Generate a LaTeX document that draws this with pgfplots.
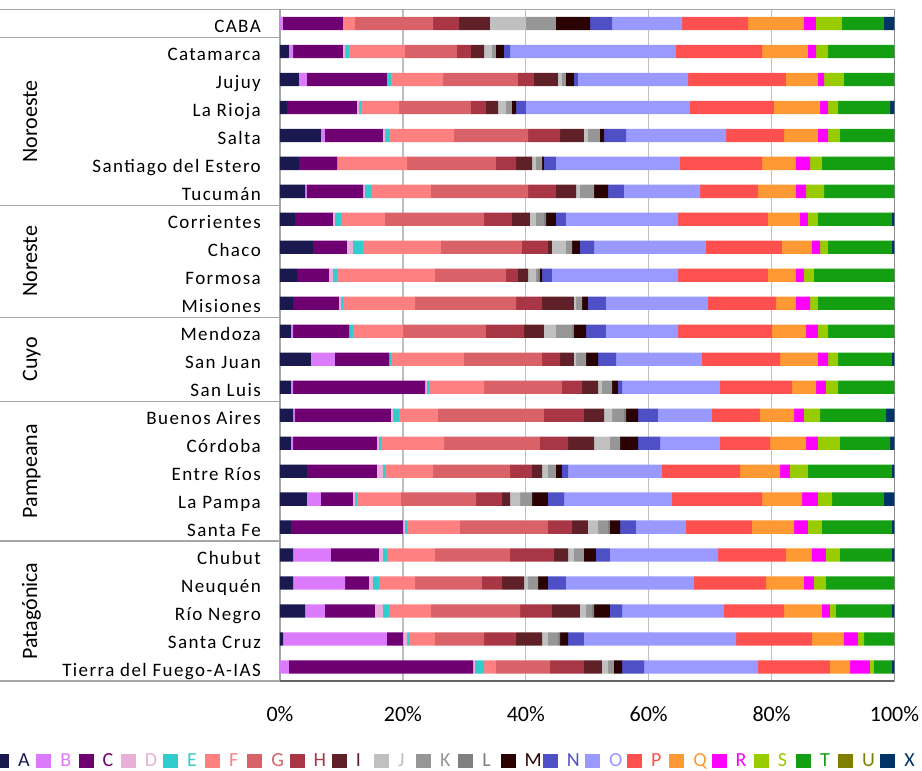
\documentclass[border=0pt]{standalone}
\usepackage{pgfplots}
\pgfplotsset{compat=1.18}
\usepackage{pgfplotstable}
\usepackage{fontspec}
\setmainfont{Carlito}
\newfontfamily\lblfont[LetterSpace=7.5]{Carlito}
\definecolor{cA}{HTML}{191950}
\definecolor{cB}{HTML}{DB7BFC}
\definecolor{cC}{HTML}{6F0071}
\definecolor{cD}{HTML}{E8B0D6}
\definecolor{cE}{HTML}{33CCCC}
\definecolor{cF}{HTML}{FF8080}
\definecolor{cG}{HTML}{D96168}
\definecolor{cH}{HTML}{A83644}
\definecolor{cI}{HTML}{602028}
\definecolor{cJ}{HTML}{C0C0C0}
\definecolor{cK}{HTML}{969696}
\definecolor{cL}{HTML}{808080}
\definecolor{cM}{HTML}{2A0202}
\definecolor{cN}{HTML}{4F50C6}
\definecolor{cO}{HTML}{9999FF}
\definecolor{cP}{HTML}{FF5050}
\definecolor{cQ}{HTML}{FF9933}
\definecolor{cR}{HTML}{FF00FF}
\definecolor{cS}{HTML}{99CC00}
\definecolor{cT}{HTML}{149E11}
\definecolor{cU}{HTML}{808000}
\definecolor{cX}{HTML}{003366}
\pgfplotstableread{
y A B C D E F G H I J K L M N O P Q R S T U X
23 0 0.43 9.82 0 0 1.95 12.70 4.23 5.04 5.86 4.88 0 5.54 3.58 11.39 10.74 9.11 1.95 4.23 6.83 0 1.71
22 1.46 0.66 8.13 0.33 0.65 9.11 8.46 2.28 2.12 1.30 0.65 0 1.30 0.98 27.01 14.00 7.48 1.31 1.95 10.82 0 0
21 3.09 1.30 13.02 0 0.65 8.47 12.20 2.60 3.91 0.65 0.65 0 1.30 0.65 17.91 15.94 5.21 0.98 3.25 8.22 0 0
20 1.14 0 11.39 0.33 0.32 6.19 11.71 2.44 1.96 1.30 0.97 0 0.66 1.62 26.69 13.67 7.49 1.30 1.63 8.46 0 0.73
19 6.67 0.65 9.44 0.33 0.65 10.58 12.04 5.21 3.90 0.65 1.95 0 0.66 3.58 16.27 9.44 5.53 1.63 1.95 8.87 0 0
18 3.09 0 6.19 0 0 11.39 14.48 3.26 2.60 0.65 0.98 0 0.32 1.95 20.18 13.35 5.53 2.28 1.95 11.80 0 0
17 4.07 0.32 9.12 0.32 0.98 9.76 15.79 4.55 3.26 0.65 2.28 0 2.28 2.60 12.37 9.44 6.18 1.63 2.93 11.47 0 0
16 2.44 0 6.18 0.33 0.98 7.16 16.11 4.55 2.93 0.98 1.30 0.33 1.62 1.63 18.23 14.64 5.21 1.30 1.63 12.04 0 0.41
15 5.37 0 5.53 0.98 1.63 12.69 13.18 4.23 0.65 2.28 0.98 0 1.30 2.28 18.22 12.37 4.88 1.31 1.30 10.41 0 0.41
14 2.77 0 5.20 0.65 0.66 15.94 11.56 1.95 1.63 1.30 0.33 0.32 0.33 1.62 20.51 14.64 4.56 1.30 1.63 13.10 0 0
13 2.12 0 7.48 0.33 0.32 11.72 16.44 4.23 5.20 0.33 0.98 0 0.97 2.93 16.60 11.07 3.25 2.28 1.30 12.45 0 0
12 1.79 0.33 9.11 0 0.65 8.14 13.50 6.19 3.25 1.95 2.61 0.32 1.96 3.25 11.72 15.30 5.53 1.95 1.63 10.82 0 0
11 5.04 3.91 8.79 0 0.32 11.88 12.70 2.93 2.27 0.33 1.63 0 1.95 2.93 13.99 12.70 6.18 1.63 1.63 8.78 0 0.41
10 1.79 0.33 21.48 0.32 0.33 8.95 12.69 3.26 2.60 0.65 1.63 0 0.97 0.66 15.94 11.72 3.91 1.62 1.96 9.19 0 0
9 2.12 0.32 15.62 0.33 0.98 6.34 17.25 6.51 3.26 1.30 1.95 0.33 1.95 3.25 8.79 7.81 5.54 1.62 2.61 10.74 0 1.38
8 1.79 0.33 13.66 0.33 0.33 10.25 15.62 4.56 4.23 2.60 1.63 0 2.93 3.58 9.76 8.14 5.86 1.95 3.58 8.14 0 0.73
7 4.39 0 11.39 0.98 0.33 7.81 12.53 3.58 1.63 0.97 1.30 0 0.98 0.98 15.29 12.70 6.51 1.62 2.93 13.67 0 0.41
6 4.39 2.28 5.21 0.33 0.32 7.16 12.21 4.23 1.30 1.63 1.95 0 2.60 2.61 17.57 14.65 6.51 2.60 2.28 8.46 0 1.71
5 1.79 0 18.23 0.32 0.33 8.62 14.32 3.91 2.60 1.63 1.63 0.32 1.63 2.60 8.14 10.74 6.84 2.27 2.28 11.39 0 0.41
4 2.12 6.18 7.81 0.65 0.65 7.81 12.21 7.16 2.28 0.97 1.63 0 1.95 2.28 17.58 11.06 4.23 2.28 2.28 8.46 0 0.41
3 2.12 8.46 3.90 0.65 0.98 5.86 10.90 3.26 3.58 0.65 1.63 0 1.62 2.93 20.83 11.72 6.18 1.63 1.95 11.15 0 0
2 4.07 3.25 8.14 1.30 0.98 6.83 14.49 5.20 4.56 0.98 0.97 0.33 2.60 1.96 16.59 9.77 6.18 1.30 0.98 9.11 0 0.41
1 0.49 16.92 2.61 0.65 0.32 4.23 7.98 5.21 4.23 0.97 1.63 0.33 1.30 2.60 24.74 12.36 5.21 2.28 0.98 4.96 0 0
0 0 1.46 29.95 0.32 1.47 1.95 8.79 5.53 2.93 0.98 0.97 0 1.31 3.58 18.55 11.71 3.26 3.25 0.65 2.93 0 0.41
}\data
\begin{document}
\begin{tikzpicture}
\path[use as bounding box] (-280pt,-90pt) rectangle (642pt,681pt);
\begin{axis}[
  at={(0pt,0pt)}, anchor=south west,
  scale only axis, width=614.5pt, height=671.5pt,
  xbar stacked, bar width=13.3pt,
  xmin=0, xmax=100, ymin=-0.5, ymax=23.5,
  enlarge x limits=false, enlarge y limits=false,
  clip=false,
  axis line style={draw=black!35, line width=1.4pt},
  xmajorgrids, major grid style={draw=black!25, line width=1.4pt},
  tick style={draw=none},
  xtick={0,20,40,60,80,100},
  xticklabels={0\%,20\%,40\%,60\%,80\%,100\%},
  xticklabel style={font=\fontsize{22}{26}\selectfont, anchor=base, inner sep=0pt, yshift=-41pt},
  ytick={0,...,23},
  yticklabels={Tierra del Fuego-A-IAS,Santa Cruz,Río Negro,Neuquén,Chubut,Santa Fe,La Pampa,Entre Ríos,Córdoba,Buenos Aires,San Luis,San Juan,Mendoza,Misiones,Formosa,Chaco,Corrientes,Tucumán,Santiago del Estero,Salta,La Rioja,Jujuy,Catamarca,CABA},
  yticklabel style={font=\lblfont\fontsize{19}{22}\selectfont, anchor=base east, inner sep=0pt, xshift=-19pt, yshift=-9pt},
  legend columns=22,
  legend cell align=left,
  legend style={at={(axis description cs:-0.4654,-0.1194)}, anchor=west, draw=none, fill=none, inner sep=0pt, font=\fontsize{20}{24}\selectfont, /tikz/every odd column/.append style={column sep=7pt}, /tikz/every even column/.append style={column sep=4.2pt}},
  legend image code/.code={\fill[#1] (0pt,-7pt) rectangle (15pt,7pt);},
]
\addplot[fill=cA, draw=none] table[x=A, y=y] {\data};
\addlegendentry{\makebox[12pt][l]{\textcolor{cA}{A}}}
\addplot[fill=cB, draw=none] table[x=B, y=y] {\data};
\addlegendentry{\makebox[12pt][l]{\textcolor{cB}{B}}}
\addplot[fill=cC, draw=none] table[x=C, y=y] {\data};
\addlegendentry{\makebox[12pt][l]{\textcolor{cC}{C}}}
\addplot[fill=cD, draw=none] table[x=D, y=y] {\data};
\addlegendentry{\makebox[12pt][l]{\textcolor{cD}{D}}}
\addplot[fill=cE, draw=none] table[x=E, y=y] {\data};
\addlegendentry{\makebox[12pt][l]{\textcolor{cE}{E}}}
\addplot[fill=cF, draw=none] table[x=F, y=y] {\data};
\addlegendentry{\makebox[12pt][l]{\textcolor{cF}{F}}}
\addplot[fill=cG, draw=none] table[x=G, y=y] {\data};
\addlegendentry{\makebox[12pt][l]{\textcolor{cG}{G}}}
\addplot[fill=cH, draw=none] table[x=H, y=y] {\data};
\addlegendentry{\makebox[12pt][l]{\textcolor{cH}{H}}}
\addplot[fill=cI, draw=none] table[x=I, y=y] {\data};
\addlegendentry{\makebox[12pt][l]{\textcolor{cI}{I}}}
\addplot[fill=cJ, draw=none] table[x=J, y=y] {\data};
\addlegendentry{\makebox[12pt][l]{\textcolor{cJ}{J}}}
\addplot[fill=cK, draw=none] table[x=K, y=y] {\data};
\addlegendentry{\makebox[12pt][l]{\textcolor{cK}{K}}}
\addplot[fill=cL, draw=none] table[x=L, y=y] {\data};
\addlegendentry{\makebox[12pt][l]{\textcolor{cL}{L}}}
\addplot[fill=cM, draw=none] table[x=M, y=y] {\data};
\addlegendentry{\makebox[12pt][l]{\textcolor{cM}{M}}}
\addplot[fill=cN, draw=none] table[x=N, y=y] {\data};
\addlegendentry{\makebox[12pt][l]{\textcolor{cN}{N}}}
\addplot[fill=cO, draw=none] table[x=O, y=y] {\data};
\addlegendentry{\makebox[12pt][l]{\textcolor{cO}{O}}}
\addplot[fill=cP, draw=none] table[x=P, y=y] {\data};
\addlegendentry{\makebox[12pt][l]{\textcolor{cP}{P}}}
\addplot[fill=cQ, draw=none] table[x=Q, y=y] {\data};
\addlegendentry{\makebox[12pt][l]{\textcolor{cQ}{Q}}}
\addplot[fill=cR, draw=none] table[x=R, y=y] {\data};
\addlegendentry{\makebox[12pt][l]{\textcolor{cR}{R}}}
\addplot[fill=cS, draw=none] table[x=S, y=y] {\data};
\addlegendentry{\makebox[12pt][l]{\textcolor{cS}{S}}}
\addplot[fill=cT, draw=none] table[x=T, y=y] {\data};
\addlegendentry{\makebox[12pt][l]{\textcolor{cT}{T}}}
\addplot[fill=cU, draw=none] table[x=U, y=y] {\data};
\addlegendentry{\makebox[12pt][l]{\textcolor{cU}{U}}}
\addplot[fill=cX, draw=none] table[x=X, y=y] {\data};
\addlegendentry{\makebox[12pt][l]{\textcolor{cX}{X}}}
% separators in the category area
\foreach \yy in {23.5,22.5,16.5,12.5,9.5,4.5,-0.5}{
  \edef\tmp{\noexpand\draw[black!35, line width=1.4pt] (axis cs:-45.57,\yy) -- (axis cs:0,\yy);}\tmp
}
\draw[black!60, line width=2pt] (axis cs:0,-0.5) -- (axis cs:100,-0.5);
\draw[black!45, line width=1.6pt] (axis cs:100,-0.5) -- (axis cs:100,23.5);
\node[rotate=90, anchor=base, font=\fontsize{22}{26}\selectfont] at (axis cs:-39.54,19.5) {Noroeste};
\node[rotate=90, anchor=base, font=\fontsize{22}{26}\selectfont] at (axis cs:-39.54,14.5) {Noreste};
\node[rotate=90, anchor=base, font=\fontsize{22}{26}\selectfont] at (axis cs:-39.54,11) {Cuyo};
\node[rotate=90, anchor=base, font=\fontsize{22}{26}\selectfont] at (axis cs:-39.54,7) {Pampeana};
\node[rotate=90, anchor=base, font=\fontsize{22}{26}\selectfont] at (axis cs:-39.54,2) {Patagónica};
\end{axis}
\end{tikzpicture}
\end{document}
